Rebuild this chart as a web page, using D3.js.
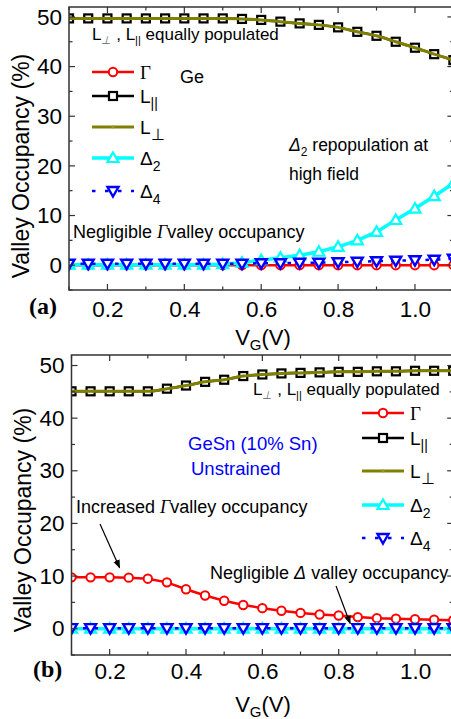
<!DOCTYPE html>
<html><head><meta charset="utf-8">
<script src="https://cdn.jsdelivr.net/npm/d3@7"></script>
<style>
html,body{margin:0;padding:0;background:#fff;}
svg{display:block;font-family:"Liberation Sans",Arial,sans-serif;}
</style></head>
<body><svg id="chart" width="451" height="719"></svg>
<script>
// ---------- data ----------
const vg = [0.1,0.15,0.2,0.25,0.3,0.35,0.4,0.45,0.5,0.55,0.6,0.65,0.7,0.75,0.8,0.85,0.9,0.95,1.0,1.05,1.1];
// panel (a) Ge
const gammaA  = [0,0,0,0,0,0,0,0,0,0,0,0,0,0,0,0,0,0,0,0,0];
const lParA   = [49.7,49.7,49.7,49.7,49.7,49.7,49.7,49.7,49.7,49.6,49.4,49.05,48.7,48.4,47.9,47.0,46.2,45.0,43.8,42.5,41.3];
const lPerpA  = [49.7,49.7,49.7,49.7,49.7,49.7,49.7,49.7,49.7,49.6,49.4,49.05,48.7,48.4,47.9,47.0,46.2,45.0,43.8,42.5,41.3];
const delta2A = [0.1,0.1,0.1,0.1,0.1,0.1,0.1,0.1,0.2,0.5,1.0,1.5,2.0,2.7,3.7,5.0,6.7,9.1,11.4,13.9,16.5];
const delta4A = [0.3,0.3,0.3,0.3,0.3,0.3,0.3,0.3,0.3,0.3,0.4,0.4,0.5,0.5,0.6,0.7,0.8,0.9,1.0,1.1,1.3];
// panel (b) GeSn (10% Sn)
const gammaB  = [9.75,9.75,9.75,9.7,9.5,8.8,7.5,6.3,5.3,4.5,3.9,3.4,3.0,2.7,2.5,2.2,2.0,1.9,1.8,1.7,1.6];
const lParB   = [45.1,45.1,45.1,45.1,45.1,45.6,46.2,46.9,47.3,48.0,48.3,48.5,48.6,48.7,48.8,48.8,48.9,48.9,49.0,49.0,49.0];
const lPerpB  = [45.1,45.1,45.1,45.1,45.1,45.6,46.2,46.9,47.3,48.0,48.3,48.5,48.6,48.7,48.8,48.8,48.9,48.9,49.0,49.0,49.0];
const delta2B = [0,0,0,0,0,0,0,0,0,0,0,0,0,0,0,0,0,0,0,0,0];
const delta4B = [0.1,0.1,0.1,0.1,0.1,0.1,0.1,0.1,0.1,0.1,0.1,0.1,0.1,0.1,0.1,0.1,0.1,0.1,0.1,0.1,0.1];

const seriesNames = ["Γ","L||","L⊥","Δ2","Δ4"];
const xTickLabels = [0.2,0.4,0.6,0.8,1.0];
const yTickLabels = [0,10,20,30,40,50];
const xDomain = [0.1,1.1];
const yDomain = [-5,52];

// ---------- styles ----------
const styles = [
  {color:"#ff0000", width:2.5, symbol:"circle", dash:null},
  {color:"#000000", width:2.5, symbol:"square", dash:null},
  {color:"#808000", width:3,   symbol:"plus",   dash:null},
  {color:"#00ffff", width:3.5, symbol:"up",     dash:null},
  {color:"#0000ff", width:2.5, symbol:"down",   dash:"3.5,8"}
];

const svg = d3.select("#chart");
const FRAME = "#333";

function marker(g, sym, color, x, y){
  if(sym==="circle"){
    g.append("circle").attr("cx",x).attr("cy",y).attr("r",4.2)
      .attr("fill","#fff").attr("stroke",color).attr("stroke-width",2);
  } else if(sym==="square"){
    g.append("rect").attr("x",x-4).attr("y",y-4).attr("width",8).attr("height",8)
      .attr("fill","#fff").attr("stroke",color).attr("stroke-width",2.2);
  } else if(sym==="up"){
    g.append("path").attr("d",`M${x},${y-5.5}L${x+5.5},${y+4}L${x-5.5},${y+4}Z`)
      .attr("fill","#fff").attr("stroke",color).attr("stroke-width",2.2);
  } else if(sym==="down"){
    g.append("path").attr("d",`M${x},${y+5.5}L${x+5.5},${y-4}L${x-5.5},${y-4}Z`)
      .attr("fill","#fff").attr("stroke",color).attr("stroke-width",2.4);
  } else if(sym==="plus"){
    g.append("path").attr("d",`M${x-1.5},${y}H${x+1.5}M${x},${y-2}V${y+1.5}`)
      .attr("stroke","#a0a020").attr("stroke-width",1);
  }
}

function legendLabel(g, i, x, y){
  const t = g.append("text").attr("x",x).attr("y",y).attr("font-size",19).attr("fill","#000");
  if(i===0){ t.attr("font-family","'Liberation Serif','Times New Roman',serif").text("Γ"); }
  else if(i===1){ t.append("tspan").text("L"); t.append("tspan").attr("font-size",14).attr("dy",5).text("||"); }
  else if(i===2){ t.append("tspan").text("L"); t.append("tspan").attr("font-size",16).attr("dy",6).text("⊥"); }
  else if(i===3){ t.append("tspan").text("Δ"); t.append("tspan").attr("font-size",14).attr("dy",6).text("2"); }
  else { t.append("tspan").text("Δ"); t.append("tspan").attr("font-size",14).attr("dy",6).text("4"); }
}

function equallyText(g, x, y){
  const t = g.append("text").attr("x",x).attr("y",y).attr("font-size",17).attr("fill","#000");
  t.append("tspan").text("L");
  t.append("tspan").attr("font-size",11).attr("dy",4).attr("fill","#666").attr("font-style","italic").text("⊥");
  t.append("tspan").attr("dy",-4).text(" , L");
  t.append("tspan").attr("font-size",11).attr("dy",4).text("||");
  t.append("tspan").attr("dy",-4).text(" equally populated");
}

function drawPanel(p){
  const x = d3.scaleLinear().domain(xDomain).range([p.left, p.right]);
  const y = d3.scaleLinear().domain(yDomain).range([p.bottom, p.top]);
  const g = svg.append("g");
  const clipId = "clip"+p.id;
  svg.append("defs").append("clipPath").attr("id",clipId)
    .append("rect").attr("x",p.left).attr("y",p.top).attr("width",p.right-p.left).attr("height",p.bottom-p.top);

  // series
  const plot = g.append("g").attr("clip-path",`url(#${clipId})`);
  p.series.forEach((vals,i)=>{
    const st = styles[i];
    const pts = vg.map((v,k)=>[v, vals[k]]);
    const line = d3.line().x(d=>x(d[0])).y(d=>y(d[1])).curve(i===2||i===1 ? d3.curveMonotoneX : d3.curveLinear);
    const path = plot.append("path").datum(pts).attr("d",line)
      .attr("fill","none").attr("stroke",st.color).attr("stroke-width",st.width);
    if(st.dash) path.attr("stroke-dasharray",st.dash);
    const mg = plot.append("g");
    if(i===2) return; // olive series: line only
    pts.forEach(d=>marker(mg, st.symbol, st.color, x(d[0]), y(d[1])));
  });

  // frame
  g.append("rect").attr("x",p.left).attr("y",p.top).attr("width",p.right-p.left).attr("height",p.bottom-p.top)
    .attr("fill","none").attr("stroke",FRAME).attr("stroke-width",1.5);

  // ticks (inward)
  const xt = d3.range(0.1,1.1001,0.1);
  xt.forEach(v=>{
    const major = Math.abs(Math.round(v*10)%2)===0;
    const L = major?6:3.5;
    g.append("line").attr("x1",x(v)).attr("x2",x(v)).attr("y1",p.bottom).attr("y2",p.bottom-L).attr("stroke",FRAME).attr("stroke-width",1.2);
    g.append("line").attr("x1",x(v)).attr("x2",x(v)).attr("y1",p.top).attr("y2",p.top+L).attr("stroke",FRAME).attr("stroke-width",1.2);
  });
  d3.range(-5,52,5).forEach(v=>{
    const major = v%10===0;
    const L = major?6:3.5;
    g.append("line").attr("x1",p.left).attr("x2",p.left+L).attr("y1",y(v)).attr("y2",y(v)).attr("stroke",FRAME).attr("stroke-width",1.2);
    g.append("line").attr("x1",p.right).attr("x2",p.right-L).attr("y1",y(v)).attr("y2",y(v)).attr("stroke",FRAME).attr("stroke-width",1.2);
  });
  // tick labels via d3 axes (lines hidden)
  const ax = g.append("g").attr("transform",`translate(0,${p.bottom})`)
    .call(d3.axisBottom(x).tickValues(xTickLabels).tickFormat(d3.format(".1f")).tickSize(0).tickPadding(p.xPad));
  ax.select(".domain").remove();
  ax.selectAll("text").attr("font-size",22.5).attr("font-family","'Liberation Sans',Arial,sans-serif").attr("fill","#000");
  const ay = g.append("g").attr("transform",`translate(${p.left},0)`)
    .call(d3.axisLeft(y).tickValues(yTickLabels).tickSize(0).tickPadding(p.yPad));
  ay.select(".domain").remove();
  ay.selectAll("text").attr("font-size",22.5).attr("font-family","'Liberation Sans',Arial,sans-serif").attr("fill","#000");

  // axis titles
  const xt2 = g.append("text").attr("x",p.xTitleX).attr("y",p.xTitleY).attr("text-anchor","middle").attr("font-size",22);
  xt2.append("tspan").text("V");
  xt2.append("tspan").attr("font-size",15).attr("dy",5).text("G");
  xt2.append("tspan").attr("dy",-5).text("(V)");
  g.append("text").attr("transform",`translate(${p.yTitleX},${p.yTitleY}) rotate(-90)`)
    .attr("text-anchor","middle").attr("font-size",23).text("Valley Occupancy (%)");
  // panel letter
  g.append("text").attr("x",p.letterX).attr("y",p.letterY)
    .attr("font-family","'Liberation Serif','Times New Roman',serif").attr("font-weight","bold")
    .attr("font-size",24).text(p.letter);

  // legend
  const lg = g.append("g");
  p.legendY.forEach((ly,i)=>{
    const st = styles[i];
    const l = lg.append("line").attr("x1",p.legX1).attr("x2",p.legX2).attr("y1",ly).attr("y2",ly)
      .attr("stroke",st.color).attr("stroke-width",st.width);
    if(st.dash) l.attr("stroke-dasharray","3.5,9.5");
    marker(lg, st.symbol, st.color, (p.legX1+p.legX2)/2, ly);
    legendLabel(lg, i, p.legX2+6, ly+7);
  });
  return {g,x,y};
}

// ---------- panel (a) ----------
const A = drawPanel({
  id:"a", left:69, right:453.4, top:7, bottom:290, xPad:11, yPad:7,
  series:[gammaA,lParA,lPerpA,delta2A,delta4A],
  xTitleX:263, xTitleY:345, yTitleX:29, yTitleY:166, letter:"(a)", letterX:29, letterY:314,
  legendY:[72,96,127,158,191], legX1:92, legX2:134
});
equallyText(A.g, 92, 40);
A.g.append("text").attr("x",180).attr("y",83).attr("font-size",18).text("Ge");
const rep = A.g.append("text").attr("x",289).attr("y",151).attr("font-size",17.5);
rep.append("tspan").attr("font-style","italic").text("Δ");
rep.append("tspan").attr("font-size",12).attr("dy",5).text("2");
rep.append("tspan").attr("dy",-5).text(" repopulation at");
A.g.append("text").attr("x",289).attr("y",180).attr("font-size",17.5).text("high field");
const neg = A.g.append("text").attr("x",73).attr("y",238).attr("font-size",18);
neg.append("tspan").text("Negligible ");
neg.append("tspan").attr("font-style","italic").attr("font-family","'Liberation Serif',serif").text("Γ");
neg.append("tspan").text("valley occupancy");

// ---------- panel (b) ----------
const B = drawPanel({
  id:"b", left:71.5, right:453.2, top:355, bottom:655, xPad:8, yPad:7,
  series:[gammaB,lParB,lPerpB,delta2B,delta4B],
  xTitleX:263, xTitleY:712, yTitleX:31, yTitleY:520, letter:"(b)", letterX:33, letterY:677,
  legendY:[413,438,471,505,538], legX1:362, legX2:404
});
equallyText(B.g, 253, 395);
B.g.append("text").attr("x",188).attr("y",450).attr("font-size",18.5).attr("fill","#0000ff").text("GeSn (10% Sn)");
B.g.append("text").attr("x",191).attr("y",475).attr("font-size",18.5).attr("fill","#0000ff").text("Unstrained");
const inc = B.g.append("text").attr("x",76).attr("y",513).attr("font-size",18);
inc.append("tspan").text("Increased ");
inc.append("tspan").attr("font-style","italic").attr("font-family","'Liberation Serif',serif").text("Γ");
inc.append("tspan").text("valley occupancy");
const negD = B.g.append("text").attr("x",210).attr("y",579).attr("font-size",18);
negD.append("tspan").text("Negligible ");
negD.append("tspan").attr("font-style","italic").text("Δ");
negD.append("tspan").text(" valley occupancy");

// arrows
const defs = svg.append("defs");
defs.append("marker").attr("id","arr").attr("viewBox","0 0 10 10").attr("refX",9).attr("refY",5)
  .attr("markerWidth",7).attr("markerHeight",7).attr("orient","auto")
  .append("path").attr("d","M0,1L10,5L0,9Z").attr("fill","#000");
[[100,524,B.x(0.226),B.y(11.6)],[336,586,B.x(0.83),B.y(1.0)]].forEach(a=>{
  B.g.append("line").attr("x1",a[0]).attr("y1",a[1]).attr("x2",a[2]).attr("y2",a[3])
    .attr("stroke","#000").attr("stroke-width",1.2).attr("marker-end","url(#arr)");
});
</script></body></html>
